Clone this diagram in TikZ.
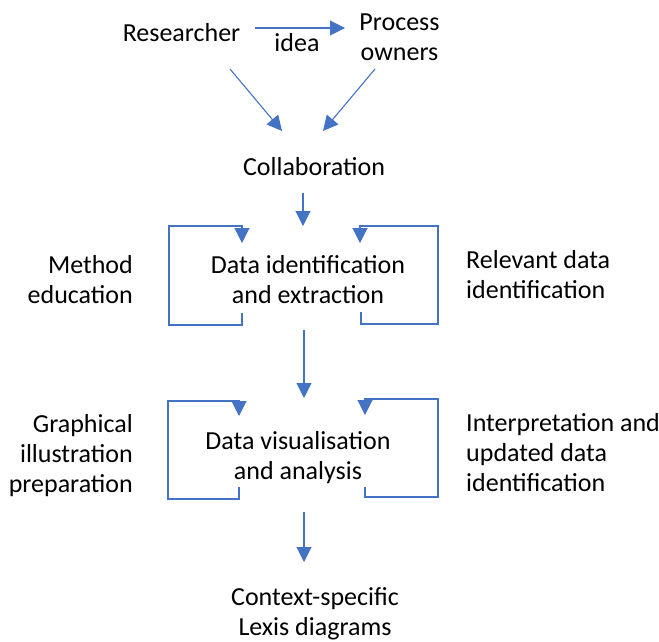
\documentclass[tikz,border=0pt]{standalone}
\usepackage{fontspec}
\setmainfont{Carlito}
\usepackage{tikz}
\usetikzlibrary{arrows.meta}
\definecolor{flowblue}{RGB}{68,114,196}

\tikzset{
	txt/.style={font=\fontsize{26}{30}\selectfont, inner sep=0pt, align=center},
	flow/.style={draw=flowblue, line width=1.1pt, -{Triangle[length=15pt,width=15pt]}}
}

\begin{document}
\begin{tikzpicture}[x=1pt, y=-1pt]
	\useasboundingbox (0,0) rectangle (659,642);
	
	\node [txt] (res) at (181.5,32.5) {Researcher};
	\node [txt] (own) at (399.5,37) {Process\\owners};
	\node [txt] (idea) at (297,42.5) {idea};
	\node [txt] (collab) at (314,167) {Collaboration};
	\node [txt] (dix) at (308,279.5) {Data identification\\and extraction};
	\node [txt] (dva) at (298,457.5) {Data visualisation\\and analysis};
	\node [txt] (lexis) at (315,614) {Context-specific\\Lexis diagrams};
	
	\node [txt, anchor=east, align=right] (meth) at (133,279.5) {Method\\education};
	\node [txt, anchor=west, align=left] (rel) at (466,275) {Relevant data\\identification};
	\node [txt, anchor=east, align=right] (graph) at (133,456) {Graphical\\illustration\\preparation};
	\node [txt, anchor=west, align=left] (interp) at (466,452.5) {Interpretation and\\updated data\\identification};
	
	% arrow ends
	\coordinate (resR) at (255,28);
	\coordinate (ownL) at (345,28);
	\coordinate (resB) at (230,69);
	\coordinate (ownB) at (375,69);
	\coordinate (colL) at (282,131);
	\coordinate (colR) at (323,131);
	\coordinate (colB) at (303,193);
	\coordinate (dixT) at (303,226);
	\coordinate (dixB) at (304,330);
	\coordinate (dvaT) at (304,398);
	\coordinate (dvaB) at (304,512);
	\coordinate (lexT) at (304,562);
	
	\draw [flow] (resR) -- (ownL);
	\draw [flow] (resB) -- (colL);
	\draw [flow] (ownB) -- (colR);
	\draw [flow] (colB) -- (dixT);
	\draw [flow] (dixB) -- (dvaT);
	\draw [flow] (dvaB) -- (lexT);
	
	% feedback loops
	\draw [flow] (242,313) -- (242,325) -- (169,325) -- (169,226) -- (242,226) -- (242,243);
	\draw [flow] (361,312) -- (361,324) -- (438,324) -- (438,226) -- (360,226) -- (360,243);
	\draw [flow] (239,487) -- (239,499) -- (168,499) -- (168,401) -- (239,401) -- (239,416);
	\draw [flow] (365,487) -- (365,497) -- (438,497) -- (438,399) -- (365,399) -- (365,415);
\end{tikzpicture}
\end{document}
